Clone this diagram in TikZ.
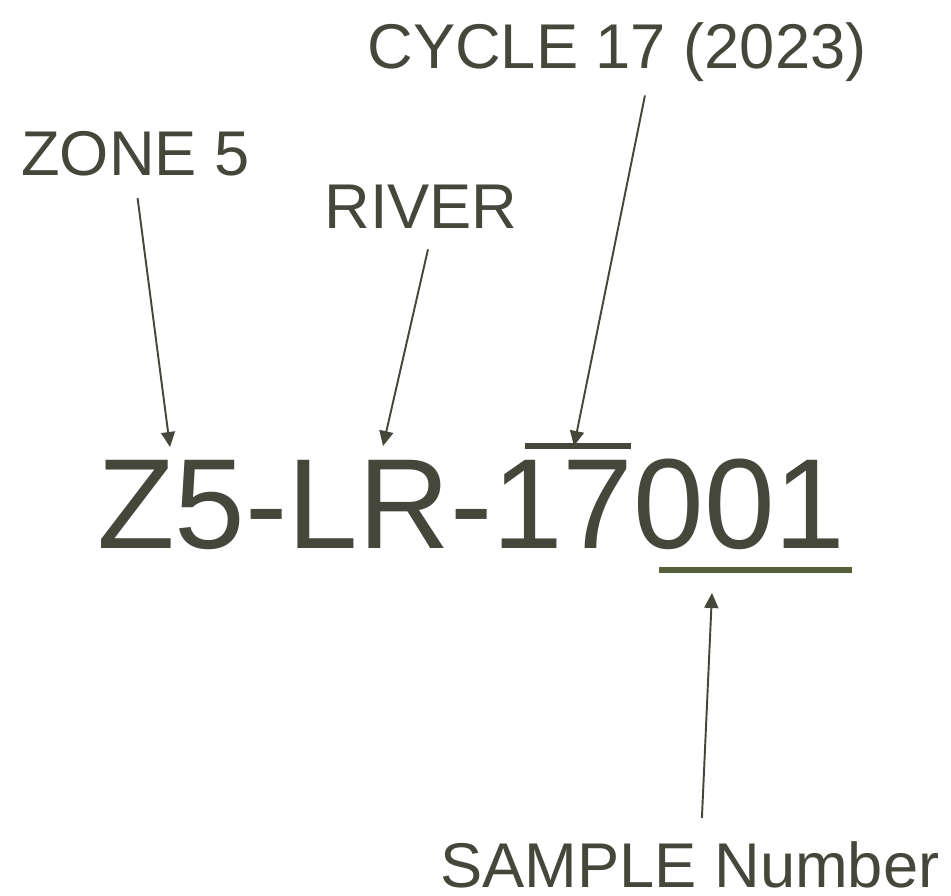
\documentclass[tikz,border=0pt]{standalone}
\usepackage{fontspec}
\setmainfont{Liberation Sans}
\usepackage{tikz}
\usetikzlibrary{arrows.meta, positioning, calc}

\definecolor{inkgray}{HTML}{44473A}
\definecolor{olivebar}{HTML}{566039}

\begin{document}
\begin{tikzpicture}[x=0.02cm, y=-0.02cm,
                label/.style={inner sep=0pt, anchor=base west, text=inkgray, font=\fontsize{36}{36}\selectfont},
                code/.style={inner sep=0pt, anchor=base west, text=inkgray, font=\fontsize{73}{73}\selectfont},
                arrow/.style={-{Triangle[length=0.3cm, width=0.28cm]}, line width=1.1pt, draw=inkgray},
                bar/.style={line width=3.4pt}]

                \useasboundingbox (0,0) rectangle (951,896);

                % Sample code
                \node[code, xscale=0.99, transform shape] (id) at (97,548) {Z5-LR-17001};

                % Labels
                \node[label] (zone) at (21,175) {ZONE 5};
                \node[label] (river) at (324,228) {RIVER};
                \node[label] (cycle) at (367,68) {CYCLE 17 (2023)};
                \node[label] (sample) at (440,887) {SAMPLE Number};

                % Marks over and under the digits
                \coordinate (cyclebarL) at (525,446);
                \coordinate (cyclebarR) at (631,446);
                \coordinate (numbarL) at (659,570);
                \coordinate (numbarR) at (852,570);
                \draw[bar, inkgray] (cyclebarL) -- (cyclebarR);
                \draw[bar, olivebar] (numbarL) -- (numbarR);

                % Arrow tips
                \coordinate (zonetip) at (170,447);
                \coordinate (rivertip) at (383,446);
                \coordinate (cycletip) at (574,446);
                \coordinate (sampletip) at (712,593);

                % Arrows
                \draw[arrow] (zone.south) ++(2,22) -- (zonetip);
                \draw[arrow] (river.south) ++(7,21) -- (rivertip);
                \draw[arrow] (cycle.south) ++(28,14) -- (cycletip);
                \draw[arrow] (sample.north) ++(12,-23) -- (sampletip);
\end{tikzpicture}
\end{document}
